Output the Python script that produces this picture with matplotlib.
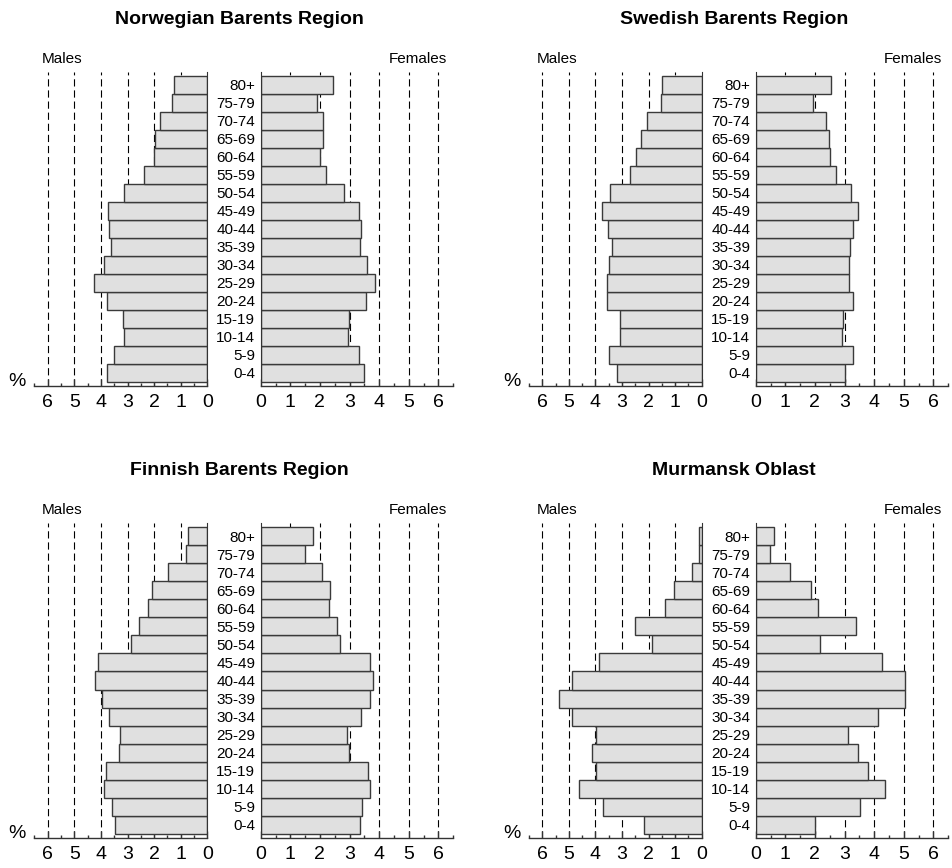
import matplotlib
matplotlib.use("Agg")
import matplotlib.pyplot as plt
from matplotlib.ticker import MultipleLocator

plt.rcParams['font.family'] = ['Liberation Sans', 'DejaVu Sans']

ages = ["0-4", "5-9", "10-14", "15-19", "20-24", "25-29", "30-34", "35-39",
        "40-44", "45-49", "50-54", "55-59", "60-64", "65-69", "70-74", "75-79", "80+"]

titles = ["Norwegian Barents Region", "Swedish Barents Region",
          "Finnish Barents Region", "Murmansk Oblast"]

# values listed from 0-4 up to 80+
norway_males = [3.76, 3.52, 3.13, 3.18, 3.78, 4.27, 3.88, 3.61, 3.68, 3.72,
                3.13, 2.37, 2.00, 1.97, 1.77, 1.34, 1.25]
norway_females = [3.49, 3.31, 2.96, 2.98, 3.56, 3.87, 3.59, 3.36, 3.39, 3.32,
                  2.83, 2.20, 2.00, 2.11, 2.12, 1.91, 2.45]
sweden_males = [3.20, 3.49, 3.09, 3.07, 3.55, 3.58, 3.50, 3.38, 3.51, 3.76,
                3.45, 2.69, 2.48, 2.28, 2.05, 1.54, 1.48]
sweden_females = [3.03, 3.30, 2.92, 2.95, 3.29, 3.14, 3.14, 3.19, 3.29, 3.47,
                  3.22, 2.71, 2.50, 2.49, 2.36, 1.95, 2.55]
finland_males = [3.48, 3.58, 3.90, 3.82, 3.31, 3.28, 3.71, 3.95, 4.24, 4.12,
                 2.86, 2.58, 2.24, 2.07, 1.48, 0.81, 0.71]
finland_females = [3.36, 3.43, 3.69, 3.64, 2.97, 2.93, 3.38, 3.68, 3.81, 3.68,
                   2.69, 2.57, 2.32, 2.35, 2.07, 1.48, 1.75]
murmansk_males = [2.18, 3.70, 4.63, 3.99, 4.12, 3.98, 4.89, 5.37, 4.87, 3.86,
                  1.87, 2.52, 1.39, 1.05, 0.35, 0.09, 0.11]
murmansk_females = [2.00, 3.54, 4.37, 3.78, 3.45, 3.13, 4.13, 5.06, 5.03, 4.28,
                    2.17, 3.38, 2.12, 1.88, 1.17, 0.48, 0.61]

males = [norway_males, sweden_males, finland_males, murmansk_males]
females = [norway_females, sweden_females, finland_females, murmansk_females]

W, H = 952, 868
fig = plt.figure(figsize=(W / 100, H / 100), dpi=100)


def fx(x):
    return x / W


def fy(y):
    return 1 - y / H


# panel geometry in pixels: (male_left, male_right, female_left, female_right, top, bottom)
geoms = [
    (34.4, 207.3, 260.7, 453.1, 72.0, 386.0),
    (529.0, 701.7, 755.7, 948.1, 72.0, 386.0),
    (34.4, 207.3, 260.7, 453.1, 523.3, 837.7),
    (529.0, 701.7, 755.7, 948.1, 523.3, 837.7),
]

bar_face = "#e0e0e0"
bar_edge = "#3a3a3a"
ypos = list(range(len(ages)))
pad_slot = 4.0 / 18.0


def style_axis(ax, side):
    ax.set_xlim(0, 6.5)
    ax.set_ylim(-0.5 - pad_slot, len(ages) - 0.5 + pad_slot)
    for s in ["top", "left", "right"]:
        ax.spines[s].set_visible(False)
    ax.spines["bottom"].set_color("#333333")
    ax.spines["bottom"].set_linewidth(1.0)
    if side == "male":
        ax.spines["right"].set_visible(True)
        ax.spines["right"].set_color("#333333")
        ax.invert_xaxis()
    else:
        ax.spines["left"].set_visible(True)
        ax.spines["left"].set_color("#333333")
    ax.xaxis.set_major_locator(MultipleLocator(1))
    ax.xaxis.set_minor_locator(MultipleLocator(0.5))
    ax.tick_params(axis="x", which="major", direction="in", length=5, width=1,
                   color="#333333", labelsize=14, pad=6)
    ax.tick_params(axis="x", which="minor", direction="in", length=2.5, width=1,
                   color="#333333")
    ax.set_xticks(range(0, 7))
    ax.set_xticklabels([str(i) for i in range(0, 7)])
    for v in range(1, 7):
        ax.axvline(v, color="black", lw=0.8, linestyle=(0, (6.5, 3.5)), zorder=0)
    ax.set_axisbelow(True)


for i in range(4):
    ml, mr, fl, fr, top, bot = geoms[i]
    axm = fig.add_axes([fx(ml), fy(bot), fx(mr) - fx(ml), fy(top) - fy(bot)])
    axf = fig.add_axes([fx(fl), fy(bot), fx(fr) - fx(fl), fy(top) - fy(bot)])
    axm.patch.set_alpha(0)
    axf.patch.set_alpha(0)

    axm.barh(ypos, males[i], height=1.0, color=bar_face, edgecolor=bar_edge,
             linewidth=1.0, zorder=2)
    axf.barh(ypos, females[i], height=1.0, color=bar_face, edgecolor=bar_edge,
             linewidth=1.0, zorder=2)

    style_axis(axm, "male")
    style_axis(axf, "female")

    axm.set_yticks([])
    axf.set_yticks(ypos)
    axf.set_yticklabels(ages, fontsize=11)
    axf.tick_params(axis="y", which="both", length=0, pad=4)

    cx = (mr + fl) / 2 + 5
    fig.text(fx(cx), fy(top - 53), titles[i], ha="center", va="center",
             fontsize=14, fontweight="bold")
    fig.text(fx(ml + 28), fy(top - 13), "Males", ha="center", va="center",
             fontsize=11)
    fig.text(fx(fr - 35.5), fy(top - 13), "Females", ha="center", va="center",
             fontsize=11)
    fig.text(fx(ml - 17.5), fy(bot - 4), "%", ha="center", va="center",
             fontsize=14)

fig.savefig("out.png", dpi=100)
